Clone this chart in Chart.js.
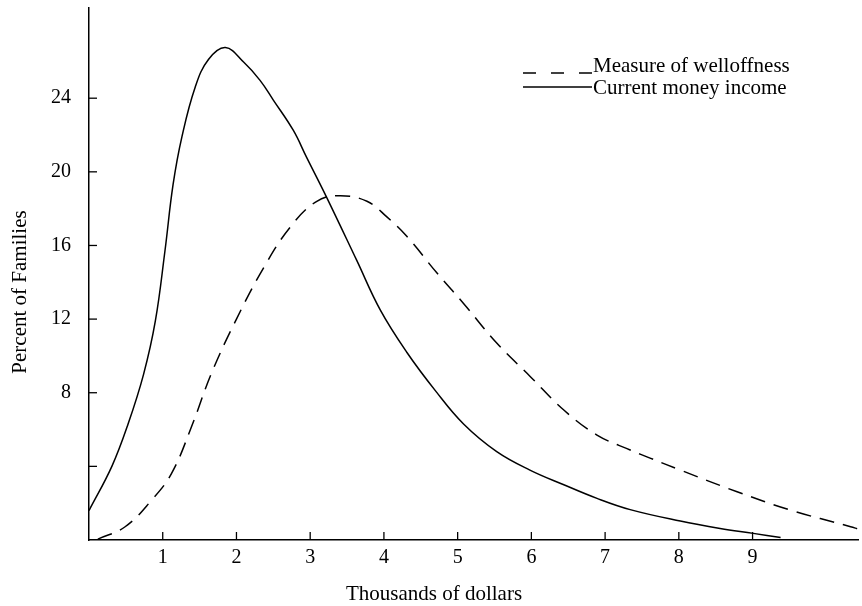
<!DOCTYPE html>
<html>
<head>
<meta charset="utf-8">
<script src="https://cdn.jsdelivr.net/npm/chart.js@4/dist/chart.umd.min.js"></script>
<style>
  body { margin: 0; background: #fff; }
  canvas { display: block; }
</style>
</head>
<body>
<canvas id="grafico" width="862" height="606"></canvas>
<script>
// valores (miles de dolares, porcentaje de familias)
const ingresoX = [0, 0.31, 0.53, 0.74, 0.90, 1.03, 1.14, 1.26, 1.44, 1.62, 1.85, 2.10, 2.32, 2.50, 2.77, 2.95, 3.22, 3.63, 3.95, 4.31, 4.70, 5.08, 5.53, 5.98, 6.44, 6.89, 7.34, 8.02, 8.56, 9.01, 9.38]
const ingresoY = [1.6, 4.0, 6.3, 9.0, 11.9, 15.7, 19.3, 21.9, 24.6, 26.1, 26.75, 25.95, 24.97, 23.9, 22.26, 20.8, 18.64, 15.2, 12.5, 10.2, 8.1, 6.3, 4.8, 3.8, 3.0, 2.26, 1.65, 1.03, 0.63, 0.36, 0.13]

const bienestarX = [0.12, 0.49, 0.85, 1.12, 1.39, 1.66, 2.0, 2.37, 2.73, 3.09, 3.41, 3.77, 4.04, 4.31, 4.72, 5.08, 5.53, 5.98, 6.44, 6.89, 7.34, 7.61, 8.02, 8.79, 9.51, 10.33, 10.43]
const bienestarY = [0.05, 0.72, 2.17, 3.62, 6.15, 9.05, 12.0, 14.8, 17.0, 18.4, 18.7, 18.4, 17.55, 16.5, 14.5, 12.85, 10.7, 8.9, 7.06, 5.7, 4.89, 4.45, 3.8, 2.62, 1.63, 0.72, 0.6]

const ticksX = [1, 2, 3, 4, 5, 6, 7, 8, 9]
const ticksY = [4, 8, 12, 16, 20, 24]
const etiquetasY = ['', '8', '12', '16', '20', '24']

const nombres = ['Measure of welloffness', 'Current money income']
const tituloX = 'Thousands of dollars'
const tituloY = 'Percent of Families'

const fuente = '"Liberation Serif", "Times New Roman", serif'
const rayas = [15, 9]

const puntos = (xs, ys) => xs.map((x, i) => ({ x, y: ys[i] }))

// marcas de los ejes hacia adentro, titulos y leyenda
const extras = {
    id: 'extras',
    afterDraw(chart) {
        const { ctx, chartArea, scales } = chart
        ctx.save()
        ctx.strokeStyle = '#000'
        ctx.lineWidth = 1.3
        ticksX.forEach(v => {
            const px = scales.x.getPixelForValue(v)
            ctx.beginPath()
            ctx.moveTo(px, chartArea.bottom)
            ctx.lineTo(px, chartArea.bottom - 8)
            ctx.stroke()
        })
        ticksY.forEach(v => {
            const py = scales.y.getPixelForValue(v)
            ctx.beginPath()
            ctx.moveTo(chartArea.left, py)
            ctx.lineTo(chartArea.left + 8, py)
            ctx.stroke()
        })

        ctx.fillStyle = '#000'
        ctx.font = '21px ' + fuente
        ctx.textAlign = 'center'
        ctx.textBaseline = 'alphabetic'
        ctx.fillText(tituloX, 434, 600)
        ctx.save()
        ctx.translate(26, 292)
        ctx.rotate(-Math.PI / 2)
        ctx.fillText(tituloY, 0, 0)
        ctx.restore()

        // leyenda
        ctx.textAlign = 'left'
        ctx.lineWidth = 1.3
        ctx.setLineDash([13, 15])
        ctx.beginPath()
        ctx.moveTo(523, 73)
        ctx.lineTo(592, 73)
        ctx.stroke()
        ctx.setLineDash([])
        ctx.beginPath()
        ctx.moveTo(523, 87)
        ctx.lineTo(592, 87)
        ctx.stroke()
        ctx.fillText(nombres[0], 593, 72)
        ctx.fillText(nombres[1], 593, 94)
        ctx.restore()
    }
}

const ctx = document.getElementById('grafico').getContext('2d')

const sinRelleno = scale => {
    scale.paddingTop = 0
    scale.paddingBottom = 0
    scale.paddingLeft = 0
    scale.paddingRight = 0
}

new Chart(ctx, {
    type: 'line',
    data: {
        datasets: [{
            label: nombres[0],
            data: puntos(bienestarX, bienestarY),
            borderColor: '#000',
            borderWidth: 1.5,
            borderDash: rayas,
            pointRadius: 0,
            tension: 0.4,
            fill: false
        }, {
            label: nombres[1],
            data: puntos(ingresoX, ingresoY),
            borderColor: '#000',
            borderWidth: 1.5,
            pointRadius: 0,
            tension: 0.4,
            fill: false
        }]
    },
    options: {
        responsive: false,
        animation: false,
        layout: { padding: { top: 8, right: 4, left: 0, bottom: 0 } },
        plugins: {
            legend: { display: false },
            tooltip: { enabled: false }
        },
        scales: {
            x: {
                type: 'linear',
                min: 0,
                max: 10.43,
                afterBuildTicks: scale => { scale.ticks = ticksX.map(v => ({ value: v })) },
                afterFit: scale => { scale.height = 66; sinRelleno(scale) },
                grid: { display: false, drawTicks: false },
                border: { display: true, color: '#000', width: 1.5 },
                ticks: {
                    color: '#000',
                    padding: 6,
                    maxRotation: 0,
                    font: { family: fuente, size: 20 }
                }
            },
            y: {
                type: 'linear',
                min: 0,
                max: 28.9,
                afterBuildTicks: scale => { scale.ticks = ticksY.map(v => ({ value: v })) },
                afterFit: scale => { scale.width = 89; sinRelleno(scale) },
                grid: { display: false, drawTicks: false },
                border: { display: true, color: '#000', width: 1.5 },
                ticks: {
                    color: '#000',
                    padding: 18,
                    callback: (v) => etiquetasY[ticksY.indexOf(v)],
                    font: { family: fuente, size: 20 }
                }
            }
        }
    },
    plugins: [extras]
})
</script>
</body>
</html>
